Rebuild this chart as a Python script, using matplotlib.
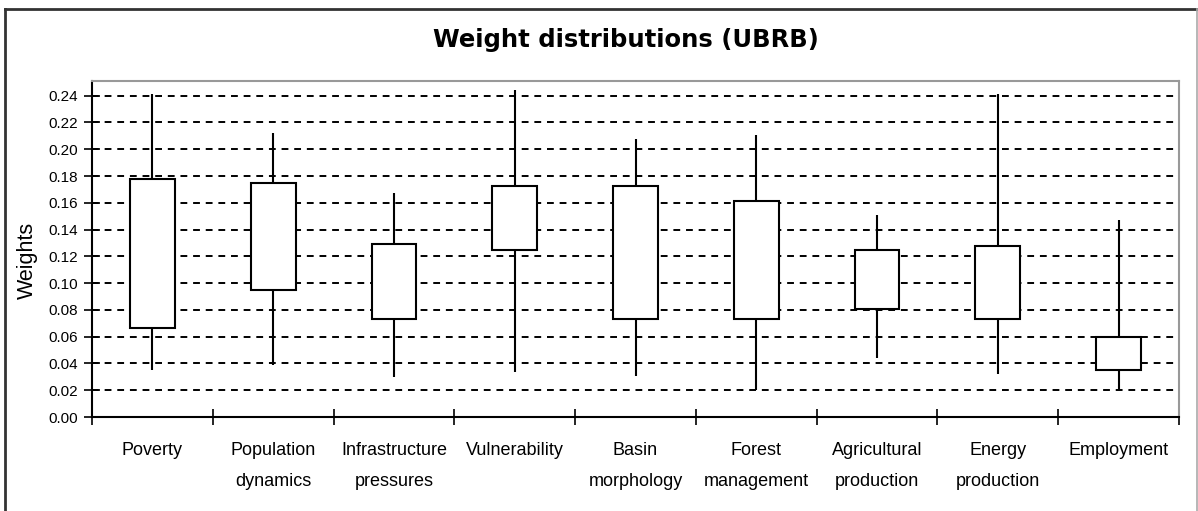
import numpy as np
import matplotlib
matplotlib.use("Agg")
import matplotlib.pyplot as plt
from matplotlib.lines import Line2D

# data (Excel high-low box chart)
categories = ["Poverty", "Population\ndynamics", "Infrastructure\npressures", "Vulnerability",
              "Basin\nmorphology", "Forest\nmanagement", "Agricultural\nproduction",
              "Energy\nproduction", "Employment"]
w_high = [0.241, 0.212, 0.167, 0.244, 0.208, 0.211, 0.151, 0.241, 0.147]
box_high = [0.1775, 0.1747, 0.1289, 0.1723, 0.1723, 0.1613, 0.1246, 0.1276, 0.0598]
box_low = [0.0666, 0.0952, 0.0733, 0.1246, 0.0733, 0.0733, 0.0808, 0.0733, 0.0354]
w_low = [0.0349, 0.0392, 0.0299, 0.0336, 0.0309, 0.0205, 0.0444, 0.0319, 0.0212]
yticks = np.arange(0, 0.2401, 0.02)

W, H = 1198, 511
fig = plt.figure(figsize=(W / 100, H / 100), dpi=100)
ax = fig.add_axes([92 / W, 1 - 417 / H, (1179 - 92) / W, (417 - 81) / H])

x = np.arange(1, len(categories) + 1)
hi = np.array(box_high); lo = np.array(box_low)

# grid first, then whiskers, then white boxes
for v in yticks[1:]:
    ax.axhline(v, color="black", lw=1.4, ls=(0, (3.5, 3)), zorder=1)
ax.vlines(x, w_low, w_high, color="black", lw=1.5, zorder=2)
ax.bar(x, hi - lo, bottom=lo, width=0.37, facecolor="white", edgecolor="black",
       linewidth=1.5, zorder=3)

ax.set_xlim(0.5, len(categories) + 0.5)
ax.set_ylim(0, 0.2510)
ax.set_yticks(yticks)
ax.set_yticklabels([f"{v:.2f}" for v in yticks], fontsize=11, family="Liberation Sans")
ax.tick_params(axis="y", direction="inout", length=12, width=1.2, pad=4)

ax.set_xticks(np.arange(0.5, len(categories) + 1, 1.0))
ax.set_xticklabels([])
ax.tick_params(axis="x", which="major", direction="inout", length=12, width=1.2)
ax.set_xticks(x, minor=True)
ax.set_xticklabels(categories, minor=True, fontsize=13, family="Liberation Sans",
                   linespacing=2.1)
ax.tick_params(axis="x", which="minor", length=0, pad=18)

for s in ["left", "bottom"]:
    ax.spines[s].set_color("black"); ax.spines[s].set_linewidth(1.5)
for s in ["top", "right"]:
    ax.spines[s].set_color("#999999"); ax.spines[s].set_linewidth(1.5)

fig.text(626 / W, 1 - 40.5 / H, "Weight distributions (UBRB)", ha="center", va="center",
         fontsize=17.5, fontweight="bold", family="DejaVu Sans")
fig.text(27 / W, 1 - 260 / H, "Weights", rotation=90, ha="center", va="center",
         fontsize=15.5, family="Liberation Sans")

# outer chart border
fig.add_artist(Line2D([5 / W, 5 / W], [0, 1 - 9 / H], color="#333333", lw=2, transform=fig.transFigure))
fig.add_artist(Line2D([5 / W, 1197 / W], [1 - 9 / H, 1 - 9 / H], color="#333333", lw=2, transform=fig.transFigure))
fig.add_artist(Line2D([1197 / W, 1197 / W], [0, 1 - 9 / H], color="#aaaaaa", lw=1.2, transform=fig.transFigure))

fig.savefig("out.png", dpi=100)
